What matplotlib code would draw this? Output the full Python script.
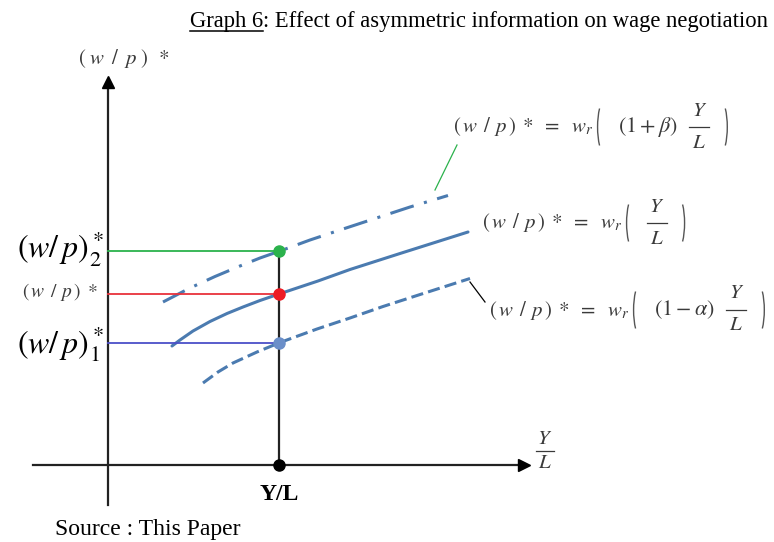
import numpy as np
import matplotlib.pyplot as plt
from matplotlib.patches import Arc

plt.rcParams['mathtext.fontset'] = 'stix'
plt.rcParams['font.family'] = ['Liberation Serif', 'DejaVu Serif']

# curves (x = Y/L, y = (w/p)*), origin at the axes crossing
curve_x = [64, 72, 85, 102, 119, 135, 152, 171, 192, 210, 242, 292, 360]
curve_y = [119, 125, 134, 143.5, 151.5, 158, 164.5, 171, 178, 184, 195.5, 211.5, 233]
high_x = [55, 82, 107, 132, 152, 172, 202, 232, 267, 302, 340]
high_y = [163, 177, 188.5, 199, 207, 214, 225, 235, 246.5, 258, 269.5]
low_x = [95, 110, 125, 149, 172, 209, 242, 275, 309, 362]
low_y = [82, 93, 102, 113, 122.5, 136, 147, 158.5, 169.5, 186.5]

# equilibrium point and its wage levels
yl_x = 171
w2, w0, w1 = 214, 171, 122

curve_color = '#4b7bb0'
text_gray = '#3a3a3a'
wp = r'(\,w\;\,/\;\,p\,)\;*'
wp_wide = r'(\;w\;\;/\;\;p\;)\;\;*'

fig = plt.figure(figsize=(7.74, 5.42), dpi=100)
ax = fig.add_axes([0, 0, 1, 1])
ax.set_xlim(-108, 666)
ax.set_ylim(-77, 465)
ax.axis('off')
renderer = fig.canvas.get_renderer()


def width_of(t):
    return t.get_window_extent(renderer).width


def fraction(xc, yc, size=15, gap=16, bar=20):
    ax.text(xc, yc + gap, '$Y$', fontsize=size, color=text_gray, ha='center', va='center')
    ax.text(xc, yc - gap, '$L$', fontsize=size, color=text_gray, ha='center', va='center')
    ax.plot([xc - bar / 2, xc + bar / 2], [yc, yc], color=text_gray, lw=0.9)


def paren(x, yc, left=True, h=56):
    if left:
        ax.add_patch(Arc((x + 7, yc), 16, h, theta1=108, theta2=252, color='#555555', lw=1.0))
    else:
        ax.add_patch(Arc((x - 7, yc), 16, h, theta1=-72, theta2=72, color='#555555', lw=1.0))


def equation(x, yc, inner=None):
    t = ax.text(x, yc, '$' + wp + r'\ =\ \ w_{r}$', fontsize=15, color=text_gray, va='center')
    x += width_of(t) + 5
    paren(x, yc)
    x += 19
    if inner:
        t = ax.text(x, yc, inner, fontsize=16, color=text_gray, va='center')
        x += width_of(t) + 12
    fraction(x + 10, yc)
    paren(x + 37, yc, left=False)


# axes with arrow heads
ax.plot([0, 0], [-40, 380], color='#222222', lw=1.6)
ax.plot([-75, 412], [0, 0], color='#222222', lw=1.6)
ax.plot(0, 383, marker='^', color='black', ms=8)
ax.plot(416, 0, marker='>', color='black', ms=9)

# the three wage curves
ax.plot(curve_x, curve_y, color=curve_color, lw=2.2, solid_capstyle='round')
ax.plot(high_x, high_y, color=curve_color, lw=2.2, dashes=(8, 3.5, 1, 3.5))
ax.plot(low_x, low_y, color=curve_color, lw=2.2, dashes=(4, 1.7))

# guide lines to the vertical axis
ax.plot([yl_x, yl_x], [0, w2], color='#222222', lw=1.6)
ax.plot([0, yl_x], [w2, w2], color='#2bb24c', lw=1.3)
ax.plot([0, yl_x], [w0, w0], color='#e8323c', lw=1.3)
ax.plot([0, yl_x], [w1, w1], color='#4b4fc8', lw=1.3)
ax.plot(yl_x, w2, 'o', color='#2bb24c', ms=8)
ax.plot(yl_x, w0, 'o', color='#ee1c25', ms=8)
ax.plot(yl_x, w1, 'o', color='#6b8fc9', ms=8)
ax.plot(yl_x, 0, 'o', color='black', ms=8)

# leader lines to the equations
ax.plot([327, 349], [275, 320], color='#2bb24c', lw=0.9)
ax.plot([362, 377], [183, 163], color='black', lw=0.9)

# equations
equation(345, 338, r'$(1+\beta)$')
equation(374, 242)
equation(381, 155, r'$(1-\alpha)$')

# axis labels
ax.text(16, 407, '$' + wp_wide + '$', fontsize=15, color=text_gray, ha='center', va='center')
fraction(437, 14, size=15, gap=12, bar=18)
ax.text(yl_x, -30, 'Y/L', fontsize=17, fontweight='bold', ha='center', va='center')

ax.text(-48, w2 + 2, r'$(w/\,p)_2^*$', fontsize=23, ha='center', va='center')
ax.text(-48, w0 + 2, '$' + wp + '$', fontsize=14, color=text_gray, ha='center', va='center')
ax.text(-48, w1 - 1, r'$(w/\,p)_1^*$', fontsize=23, ha='center', va='center')

ax.text(-53, -64, 'Source : This Paper', fontsize=17, ha='left', va='center')

# title with underlined graph number
t1 = ax.text(82, 444, 'Graph 6', fontsize=16.3, ha='left', va='center')
bb = t1.get_window_extent(renderer).transformed(ax.transData.inverted())
ax.plot([bb.x0, bb.x1], [bb.y0 + 1, bb.y0 + 1], color='black', lw=1.1)
ax.text(bb.x1, 444, ': Effect of asymmetric information on wage negotiation',
        fontsize=16.3, ha='left', va='center')

fig.savefig('out.png', dpi=100, facecolor='white')
